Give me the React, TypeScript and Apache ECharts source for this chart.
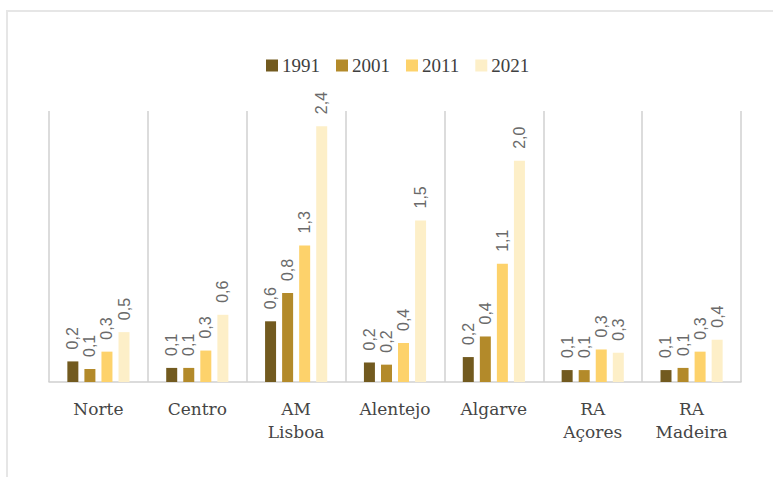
import React, { useEffect, useRef } from "react";
import * as echarts from "echarts";

const categories = ["Norte", "Centro", "AM\nLisboa", "Alentejo", "Algarve", "RA\nAçores", "RA\nMadeira"];
const seriesNames = ["1991", "2001", "2011", "2021"];
const values1991 = [0.19, 0.13, 0.56, 0.18, 0.23, 0.11, 0.11];
const values2001 = [0.12, 0.13, 0.82, 0.16, 0.42, 0.11, 0.13];
const values2011 = [0.28, 0.29, 1.26, 0.36, 1.09, 0.3, 0.28];
const values2021 = [0.46, 0.62, 2.36, 1.49, 2.04, 0.27, 0.39];
const colors = ["#725a1f", "#b38a2a", "#fdd26b", "#fdefc8"];

export default function App() {
  const ref = useRef<HTMLDivElement>(null);
  useEffect(() => {
    if (!ref.current) return;
    const chart = echarts.init(ref.current, null, { renderer: "svg" });
    const data = [values1991, values2001, values2011, values2021];
    chart.setOption({
      animation: false,
      backgroundColor: "#ffffff",
      graphic: [
        {
          type: "rect",
          shape: { x: 7, y: 11, width: 820, height: 470 },
          style: { fill: "none", stroke: "#e6e6e6", lineWidth: 2 },
          silent: true,
        },
      ],
      legend: {
        data: seriesNames,
        top: 51,
        left: 261,
        itemWidth: 12,
        itemHeight: 12,
        itemGap: 16,
        icon: "rect",
        textStyle: { fontFamily: "Liberation Serif", fontSize: 19, color: "#404040", padding: [0, 0, 0, -1] },
      },
      grid: { left: 49, right: 32, top: 111, bottom: 95, containLabel: false },
      xAxis: {
        type: "category",
        data: categories,
        axisLine: { show: true, lineStyle: { color: "#d0d0d0", width: 1.5 } },
        axisTick: { show: false },
        splitLine: { show: true, lineStyle: { color: "#d0d0d0", width: 1.5 } },
        axisLabel: {
          fontFamily: "DejaVu Serif",
          fontSize: 17,
          color: "#454545",
          lineHeight: 23,
          margin: 15,
          interval: 0,
        },
      },
      yAxis: {
        type: "value",
        min: 0,
        max: 2.5,
        show: false,
        splitLine: { show: false },
      },
      series: seriesNames.map((name, i) => ({
        name,
        type: "bar",
        data: data[i],
        barWidth: 11,
        barGap: "55%",
        itemStyle: { color: colors[i] },
        label: {
          show: true,
          position: "top",
          rotate: 90,
          align: "left",
          verticalAlign: "middle",
          distance: 12,
          fontFamily: "Liberation Sans",
          fontSize: 16,
          color: "#6a6a6a",
          formatter: (p: any) => p.value.toFixed(1).replace(".", ","),
        },
      })),
    });
    return () => chart.dispose();
  }, []);
  return <div ref={ref} style={{ width: 773, height: 477, position: "fixed", left: 0, top: 0 }} />;
}
